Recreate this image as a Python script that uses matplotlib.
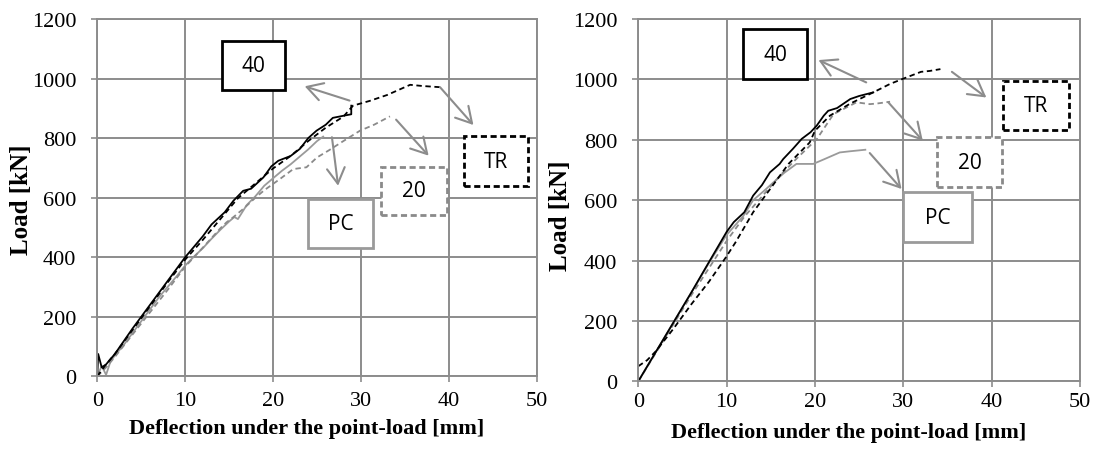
import matplotlib
matplotlib.use("Agg")
import matplotlib.pyplot as plt
from matplotlib.patches import Rectangle

# ---------------- data ----------------
# Left panel
L_PC_x = [0, 0.5, 1.0, 1.5, 2, 3, 4, 5, 6, 7, 8, 9, 10, 11, 12, 13, 14, 15, 15.6, 16, 17, 18, 19, 20, 21, 22, 23, 24, 25, 25.7]
L_PC_y = [0, 35, 5, 50, 70, 105, 145, 185, 225, 265, 300, 335, 372, 402, 430, 462, 492, 520, 535, 528, 575, 605, 640, 665, 690, 712, 737, 762, 790, 805]

L_20_x = [0, 1, 2, 4, 6, 8, 10, 12, 14, 14.7, 15.5, 16.6, 18, 19, 20.8, 22.3, 23.8, 25, 26.3, 28, 29.9, 31.5, 33.3]
L_20_y = [0, 30, 65, 140, 215, 290, 368, 432, 497, 517, 535, 562, 600, 625, 663, 696, 702, 735, 758, 790, 825, 845, 873]

L_40_x = [0, 0.1, 0.5, 1, 2, 4, 6, 8, 10, 12, 13, 14.5, 15.5, 16.6, 17.5, 18.9, 19.8, 20.6, 22, 23.06, 24, 24.95, 26, 26.8, 28, 28.9, 28.9]
L_40_y = [0, 75, 30, 40, 75, 160, 240, 320, 400, 470, 510, 551, 590, 623, 630, 668, 705, 724, 740, 764, 800, 825, 845, 868, 875, 880, 909]

L_TR_x = [0, 1, 2, 4, 6, 8, 10, 12, 14, 16, 18, 20, 22, 24, 26, 28, 29.1, 31, 33, 35.6, 37, 39]
L_TR_y = [0, 40, 75, 155, 235, 315, 392, 458, 528, 598, 648, 698, 740, 790, 835, 872, 909, 925, 945, 979, 975, 971]

# Right panel
R_PC_x = [0, 2, 4, 6, 8, 10, 11.9, 13, 14.2, 15.3, 16.5, 17.9, 19.8, 21, 22.8, 24, 25.7]
R_PC_y = [0, 98, 196, 294, 392, 485, 548, 600, 630, 659, 690, 720, 720, 735, 758, 762, 767]

R_20_x = [0, 2, 4, 6, 8, 10, 12, 14, 16, 18, 20.2, 22.1, 24.7, 26.2, 27, 28.5]
R_20_y = [0, 95, 190, 285, 375, 465, 545, 612, 680, 740, 802, 885, 924, 918, 920, 926]

R_40_x = [0, 2, 4, 6, 8, 10, 10.8, 12, 13, 14, 14.9, 16, 16.4, 17.5, 18.5, 19.5, 20.2, 21, 21.5, 22.5, 24, 25, 26.6]
R_40_y = [0, 98, 196, 294, 395, 495, 527, 560, 615, 650, 692, 720, 736, 770, 803, 825, 847, 880, 896, 905, 935, 945, 957]

R_TR_x = [0, 1, 2, 4, 6, 8, 9.9, 11, 13, 15, 17, 19.4, 20, 21.7, 24, 26.6, 28.5, 30.4, 32, 33, 34.2]
R_TR_y = [50, 70, 100, 175, 255, 330, 410, 460, 560, 640, 720, 791, 830, 880, 920, 957, 985, 1007, 1025, 1028, 1034]

x_ticks = [0, 10, 20, 30, 40, 50]
y_ticks = [0, 200, 400, 600, 800, 1000, 1200]
box_labels = ["40", "TR", "20", "PC"]

# ---------------- styling ----------------
W, H = 1096, 452
fig = plt.figure(figsize=(W / 100, H / 100), dpi=100)

GRID = "#8c8c8c"
GRAY = "#9a9a9a"
GRAYD = "#8a8a8a"
ARROW = "#8c8c8c"

def px_axes(x0, x1, ytop, ybot):
    return fig.add_axes([x0 / W, 1 - ybot / H, (x1 - x0) / W, (ybot - ytop) / H])

axL = px_axes(97.3, 536.7, 20, 377.3)
axR = px_axes(638.3, 1080, 20, 382.3)

series_style = {
    "PC": dict(color=GRAY, lw=1.3, ls="-"),
    "20": dict(color=GRAYD, lw=1.3, ls=(0, (3, 2))),
    "40": dict(color="black", lw=1.3, ls="-"),
    "TR": dict(color="black", lw=1.3, ls=(0, (3, 2))),
}

def setup(ax, xpad):
    ax.set_xlim(0, 50)
    ax.set_ylim(0, 1200)
    ax.set_xticks(x_ticks)
    ax.set_yticks(y_ticks)
    ax.grid(True, color=GRID, lw=1.4)
    ax.set_axisbelow(True)
    for s in ax.spines.values():
        s.set_color(GRID)
        s.set_linewidth(1.4)
    ax.tick_params(axis="both", direction="out", length=4, width=1.2, color=GRID,
                   labelsize=16, labelcolor="black")
    ax.tick_params(axis="y", pad=11)
    ax.tick_params(axis="x", pad=xpad)
    for lab in ax.get_xticklabels() + ax.get_yticklabels():
        lab.set_fontfamily("Liberation Serif")

setup(axL, 6.5)
setup(axR, 3.5)

def draw_curves(ax, data):
    for key, (xs, ys) in data.items():
        ax.plot(xs, ys, **series_style[key])

draw_curves(axL, {"PC": (L_PC_x, L_PC_y), "20": (L_20_x, L_20_y),
                  "TR": (L_TR_x, L_TR_y), "40": (L_40_x, L_40_y)})
draw_curves(axR, {"PC": (R_PC_x, R_PC_y), "20": (R_20_x, R_20_y),
                  "TR": (R_TR_x, R_TR_y), "40": (R_40_x, R_40_y)})

box_style = {
    "40": dict(edgecolor="black", ls="-"),
    "TR": dict(edgecolor="black", ls=(0, (2.2, 1.3))),
    "20": dict(edgecolor=GRAYD, ls=(0, (2.2, 1.3))),
    "PC": dict(edgecolor=GRAY, ls="-"),
}

def boxes(ax, rects):
    for lab in box_labels:
        x0, x1, y0, y1 = rects[lab]
        ax.add_patch(Rectangle((x0, y0), x1 - x0, y1 - y0, facecolor="white", lw=2.0,
                               clip_on=False, zorder=5, **box_style[lab]))
        ax.text((x0 + x1) / 2, (y0 + y1) / 2, lab, ha="center", va="center",
                fontsize=15, family="Open Sans", color="black", zorder=6)

boxes(axL, {"40": (14.15, 21.35, 963, 1125), "TR": (41.7, 49.0, 640, 806),
            "20": (32.24, 39.75, 542, 704), "PC": (24.0, 31.4, 430, 596)})
boxes(axR, {"40": (11.9, 19.07, 1001, 1167), "TR": (41.34, 48.7, 832, 994),
            "20": (33.86, 41.15, 643, 808), "PC": (30.0, 37.8, 462, 626)})

def arrows(ax, pairs):
    for (tx, ty), (hx, hy) in pairs:
        ax.annotate("", xy=(hx, hy), xytext=(tx, ty),
                    arrowprops=dict(arrowstyle="->,head_length=0.7,head_width=0.4",
                                    color=ARROW, lw=1.5, shrinkA=0, shrinkB=0,
                                    mutation_scale=16),
                    annotation_clip=False, zorder=4)

arrows(axL, [((28.7, 926), (23.6, 974)), ((39.0, 971), (42.8, 844)),
             ((34.0, 862), (37.7, 741)), ((26.7, 803), (27.4, 640))])
arrows(axR, [((25.8, 990), (20.4, 1064)), ((35.5, 1025), (39.4, 940)),
             ((28.3, 924), (32.2, 797)), ((26.2, 756), (29.8, 637))])

lab_kw = dict(family="Liberation Serif", fontweight="bold", color="black",
              ha="center", va="center")
fig.text(306.5 / W, 1 - 429 / H, "Deflection under the point-load [mm]", fontsize=16, **lab_kw)
fig.text(849 / W, 1 - 433 / H, "Deflection under the point-load [mm]", fontsize=16, **lab_kw)
fig.text(22 / W, 1 - 200 / H, "Load [kN]", rotation=90, fontsize=18, **lab_kw)
fig.text(561 / W, 1 - 216 / H, "Load [kN]", rotation=90, fontsize=18, **lab_kw)

fig.savefig("out.png", dpi=100, facecolor="white")
